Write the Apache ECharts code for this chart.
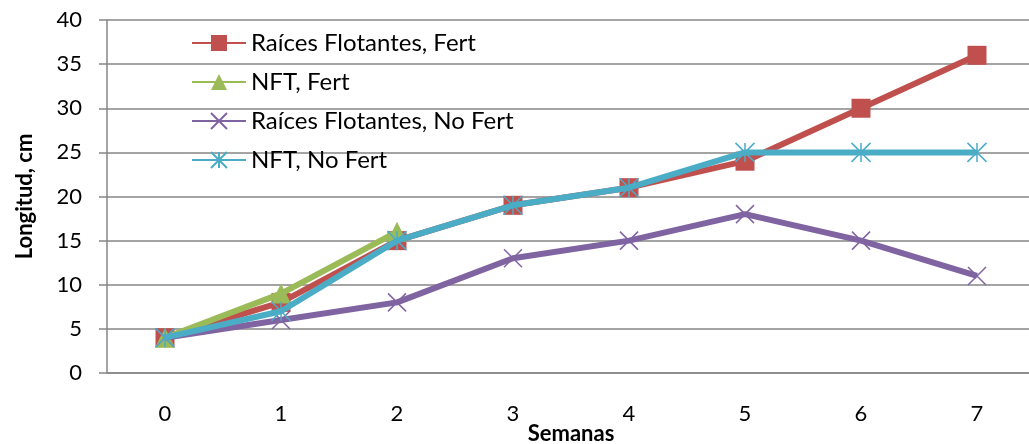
<!DOCTYPE html>
<html><head><meta charset="utf-8">
<script src="https://cdn.jsdelivr.net/npm/echarts@6/dist/echarts.min.js"></script>
<style>html,body{margin:0;padding:0;background:#fff}#c{width:1029px;height:444px}</style>
</head><body><div id="c"></div>
<script>
const weeks = ['0','1','2','3','4','5','6','7'];
const rfFert = [4, 8, 15, 19, 21, 24, 30, 36];
const nftFert = [4, 9, 16];
const rfNoFert = [4, 6, 8, 13, 15, 18, 15, 11];
const nftNoFert = [4, 7, 15, 19, 21, 25, 25, 25];
const names = ['Raíces Flotantes, Fert', 'NFT, Fert', 'Raíces Flotantes, No Fert', 'NFT, No Fert'];
const colors = ['#C0504D', '#9BBB59', '#8064A2', '#4BACC6'];
const FONT = 'Lato';
const xSym = 'path://M0,0L10,10M10,0L0,10';
const starSym = 'path://M5,0L5,10M0,0L10,10M10,0L0,10';
function mk(i, data, symbol, size, stroke) {
  return {
    name: names[i], type: 'line', data: data, symbol: symbol, symbolSize: size,
    lineStyle: { color: colors[i], width: 6 },
    itemStyle: stroke ? { color: colors[i], borderColor: colors[i], borderWidth: 1.5 } : { color: colors[i] },
    z: 2 + i, animation: false
  };
}
const chart = echarts.init(document.getElementById('c'));
chart.setOption({
  animation: false,
  grid: { left: 107, right: -6, top: 20, bottom: 71, outerBoundsMode: 'none', containLabel: false },
  legend: {
    orient: 'vertical', left: 186, top: 26, itemGap: 15, itemWidth: 54, itemHeight: 20,
    textStyle: { fontFamily: FONT, fontSize: 24, color: '#000' },
    data: names
  },
  xAxis: {
    type: 'category', data: weeks, boundaryGap: true,
    name: 'Semanas', nameLocation: 'middle', nameGap: 50, nameMoveOverlap: false,
    nameTextStyle: { fontFamily: FONT, fontSize: 22, fontWeight: 'bold', color: '#000' },
    axisLine: { lineStyle: { color: '#868686', width: 1.5 } },
    axisTick: { show: false },
    axisLabel: { fontFamily: FONT, fontSize: 22, color: '#000', margin: 30 }
  },
  yAxis: {
    type: 'value', min: 0, max: 40, interval: 5,
    name: 'Longitud, cm', nameLocation: 'middle', nameGap: 71, nameMoveOverlap: false,
    nameTextStyle: { fontFamily: FONT, fontSize: 22, fontWeight: 'bold', color: '#000' },
    axisLine: { show: true, lineStyle: { color: '#868686', width: 1.5 } },
    axisTick: { show: true, length: 8, lineStyle: { color: '#868686', width: 1.5 } },
    splitLine: { lineStyle: { color: '#868686', width: 1.5 } },
    axisLabel: { fontFamily: FONT, fontSize: 22, color: '#000', margin: 25 }
  },
  series: [
    mk(0, rfFert, 'rect', 19, false),
    mk(1, nftFert, 'triangle', 20, false),
    mk(2, rfNoFert, xSym, 18, true),
    mk(3, nftNoFert, starSym, 19, true)
  ]
});
</script></body></html>
